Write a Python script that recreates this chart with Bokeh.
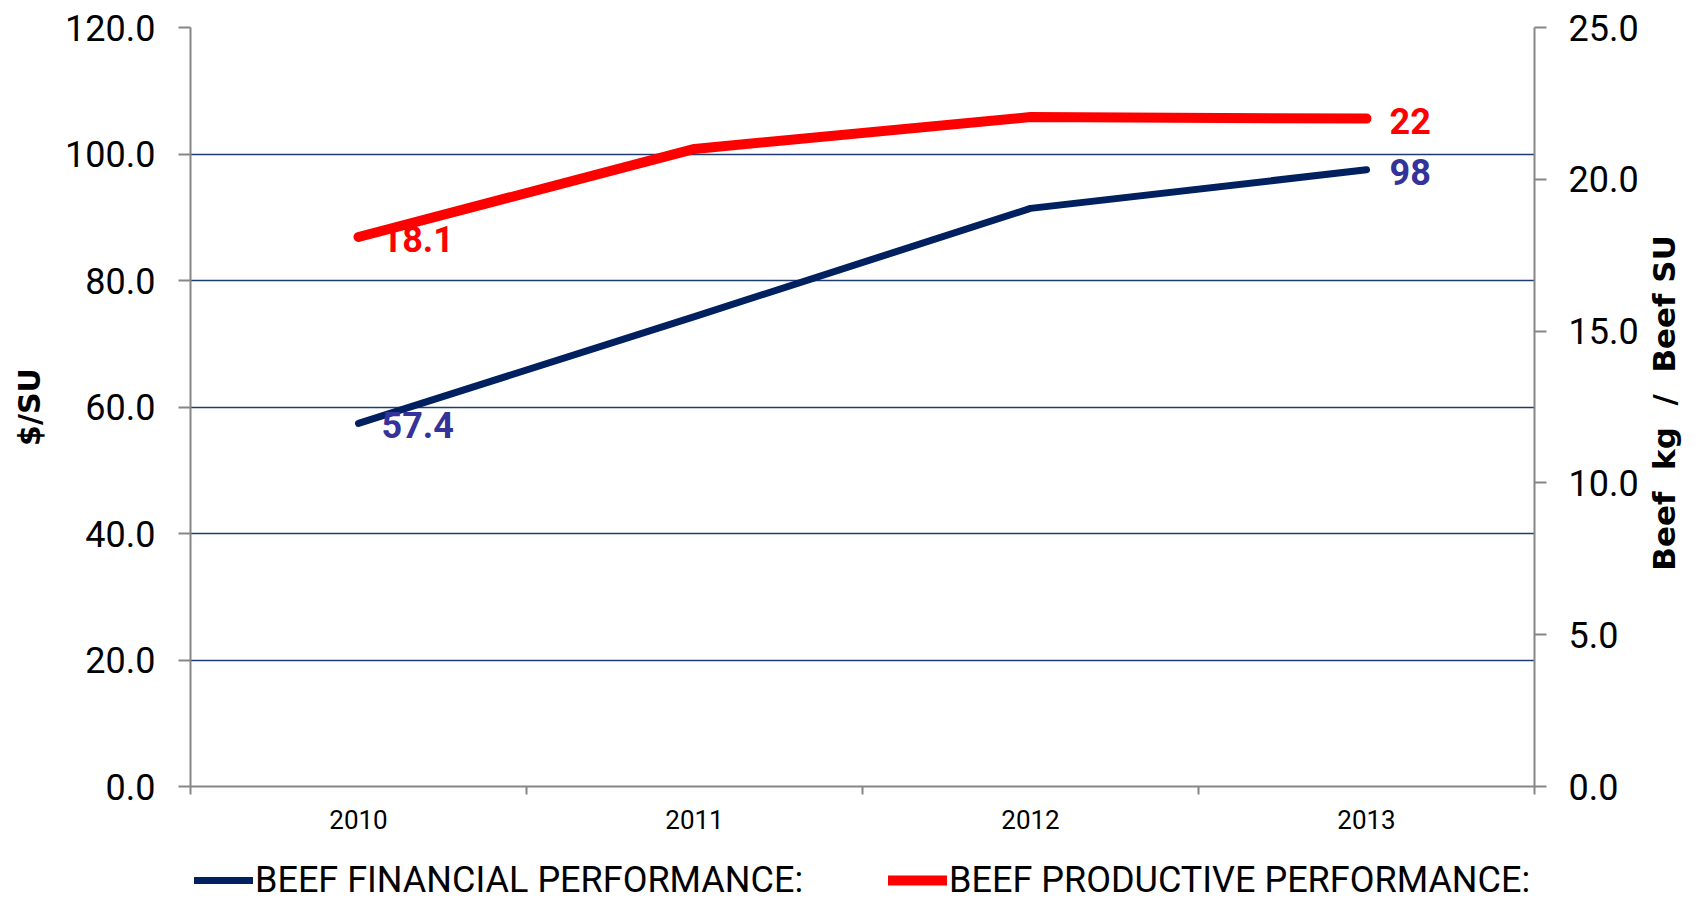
import math
from bokeh.plotting import figure
from bokeh.layouts import column
from bokeh.models import (Range1d, LinearAxis, FixedTicker, NumeralTickFormatter,
                          Legend, LegendItem, ColumnDataSource)
from bokeh.core.properties import value
from bokeh.embed import file_html
from bokeh.resources import INLINE

NB = "\u00a0"

# ---- data ----
years = ["2010", "2011", "2012", "2013"]
financial = [57.4, 74.3, 91.4, 97.5]          # $/SU (left axis)
productive = [18.1, 21.0, 22.05, 22.0]        # Beef kg / Beef SU (right axis)
financial_labels = ["57.4", "", "", "98"]
productive_labels = ["18.1", "", "", "22"]
left_ticks = [0, 20, 40, 60, 80, 100, 120]
right_ticks = [0, 5, 10, 15, 20, 25]
series_names = ["BEEF FINANCIAL PERFORMANCE:", "BEEF PRODUCTIVE PERFORMANCE:"]
left_title = "$/SU"
right_title = f"Beef{NB*2}kg{NB*2}/{NB*2}Beef{NB}SU"

NAVY = "#002060"
RED = "#FF0000"
LABEL_BLUE = "#333399"
AXIS_GRAY = "#868686"
GRID = "#1F3B70"
FONT = "Roboto"
TITLE_FONT = "DejaVu Sans"
W = 1702
MAIN_H = 840
LEG_H = 901 - MAIN_H

xpos = [i + 0.5 for i in range(len(years))]
boundaries = list(range(len(years) + 1))

p = figure(width=W, height=MAIN_H, output_backend="svg", toolbar_location=None,
           x_range=Range1d(0, len(years)), y_range=Range1d(left_ticks[0], left_ticks[-1]),
           min_border_left=190, min_border_right=165, min_border_top=27,
           min_border_bottom=54)
p.extra_y_ranges = {"right": Range1d(right_ticks[0], right_ticks[-1])}
p.outline_line_color = None
p.background_fill_color = "white"
p.border_fill_color = "white"

# grid
p.xgrid.visible = False
p.ygrid.ticker = FixedTicker(ticks=left_ticks)
p.ygrid.grid_line_color = GRID
p.ygrid.grid_line_width = 1.5

# x axis: labels at category centres, ticks at category boundaries
xa = p.xaxis[0]
xa.ticker = FixedTicker(ticks=xpos, minor_ticks=boundaries)
xa.major_label_overrides = {x: y for x, y in zip(xpos, years)}
xa.major_tick_line_color = None
xa.major_tick_out = 0
xa.major_tick_in = 0
xa.minor_tick_out = 8
xa.minor_tick_in = 0
xa.minor_tick_line_color = AXIS_GRAY
xa.minor_tick_line_width = 2
xa.axis_line_color = AXIS_GRAY
xa.axis_line_width = 2
xa.major_label_standoff = 15
xa.major_label_text_font = FONT
xa.major_label_text_font_size = "26px"
xa.major_label_text_color = "black"

# left axis
ya = p.yaxis[0]
ya.ticker = FixedTicker(ticks=left_ticks)
ya.formatter = NumeralTickFormatter(format="0.0")
ya.axis_label = left_title
ya.axis_label_text_font = TITLE_FONT
ya.axis_label_text_font_style = "bold"
ya.axis_label_text_font_size = "30px"
ya.axis_label_text_color = "black"
ya.axis_label_standoff = 15
ya.axis_line_color = AXIS_GRAY
ya.axis_line_width = 2
ya.major_tick_out = 12
ya.major_tick_in = 0
ya.major_tick_line_color = AXIS_GRAY
ya.major_tick_line_width = 2
ya.minor_tick_line_color = None
ya.major_label_standoff = 23
ya.major_label_text_font = FONT
ya.major_label_text_font_size = "36px"
ya.major_label_text_color = "black"

# right axis (ticks and labels)
ra = LinearAxis(y_range_name="right", ticker=FixedTicker(ticks=right_ticks),
                formatter=NumeralTickFormatter(format="0.0"))
ra.axis_line_color = AXIS_GRAY
ra.axis_line_width = 2
ra.major_tick_out = 12
ra.major_tick_in = 0
ra.major_tick_line_color = AXIS_GRAY
ra.major_tick_line_width = 2
ra.minor_tick_line_color = None
ra.major_label_standoff = 22
ra.major_label_text_font = FONT
ra.major_label_text_font_size = "36px"
ra.major_label_text_color = "black"
p.add_layout(ra, "right")

# right axis title, reading bottom-to-top
rt = LinearAxis(y_range_name="right", ticker=FixedTicker(ticks=[]))
title_text = right_title
try:
    rt.axis_label_orientation = math.pi / 2
    rt.axis_label_align = "start"
    title_text = NB * 20 + right_title
except Exception:
    pass
rt.axis_label = title_text
rt.axis_label_text_font = TITLE_FONT
rt.axis_label_text_font_style = "bold"
rt.axis_label_text_font_size = "31px"
rt.axis_label_text_color = "black"
rt.axis_label_standoff = 22
rt.axis_line_color = None
rt.major_tick_line_color = None
rt.minor_tick_line_color = None
rt.major_tick_out = 0
rt.major_tick_in = 0
rt.major_label_standoff = 0
p.add_layout(rt, "right")

# data
src_f = ColumnDataSource(dict(x=xpos, y=financial, label=financial_labels))
src_p = ColumnDataSource(dict(x=xpos, y=productive, label=productive_labels))

line_f = dict(line_color=NAVY, line_width=7, line_cap="round", line_join="round")
line_p = dict(line_color=RED, line_width=10, line_cap="round", line_join="round")

p.line("x", "y", source=src_f, **line_f)
p.line("x", "y", source=src_p, y_range_name="right", **line_p)

p.text("x", "y", text="label", source=src_f, text_font=value(FONT),
       text_font_style="bold", text_font_size="36px", text_color=LABEL_BLUE,
       text_align="left", text_baseline="middle", x_offset=23, y_offset=2)
p.text("x", "y", text="label", source=src_p, y_range_name="right",
       text_font=value(FONT), text_font_style="bold", text_font_size="36px",
       text_color=RED, text_align="left", text_baseline="middle",
       x_offset=23, y_offset=2)

# legend strip below the chart (its plot range keeps the series lines out of view)
q = figure(width=W, height=LEG_H, output_backend="svg", toolbar_location=None,
           x_range=Range1d(0, 1), y_range=Range1d(-2, -1), min_border=0,
           x_axis_type=None, y_axis_type=None)
q.outline_line_color = None
q.background_fill_color = "white"
q.border_fill_color = "white"
lf = q.line("x", "y", source=src_f, **line_f)
lp = q.line("x", "y", source=src_p, **line_p)
legend = Legend(items=[LegendItem(label=series_names[0], renderers=[lf]),
                       LegendItem(label=series_names[1], renderers=[lp])],
                orientation="horizontal", location=(4, 0),
                spacing=85, glyph_width=59, glyph_height=20, label_standoff=2,
                label_text_font=FONT, label_text_font_size="36px",
                label_text_color="black", border_line_color=None,
                background_fill_alpha=0, padding=0, margin=0)
q.add_layout(legend)

open("out.html", "w").write(file_html(column(p, q, spacing=0), INLINE))
